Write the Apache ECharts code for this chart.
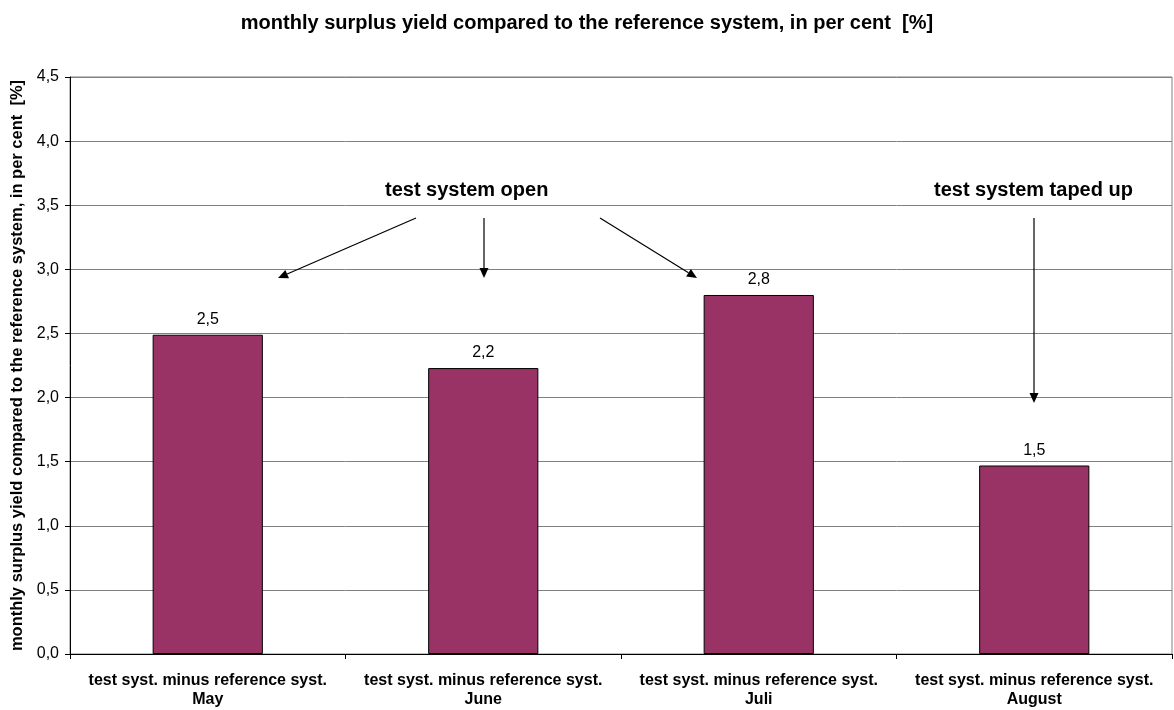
<!DOCTYPE html>
<html>
<head>
<meta charset="utf-8">
<script src="https://cdn.jsdelivr.net/npm/echarts@6/dist/echarts.min.js"></script>
<style>
  html, body { margin: 0; padding: 0; background: #fff; }
  #chart { width: 1174px; height: 710px; }
</style>
</head>
<body>
<div id="chart"></div>
<script>
// Monthly surplus yield of the test system over the reference system
const categories = [
  'test syst. minus reference syst.\nMay',
  'test syst. minus reference syst.\nJune',
  'test syst. minus reference syst.\nJuli',
  'test syst. minus reference syst.\nAugust'
];
const surplusValues = [2.49, 2.23, 2.80, 1.47];
const yTicks = { min: 0, max: 4.5, step: 0.5 };

const FONT = 'Arial, "Liberation Sans", sans-serif';
const comma = v => v.toFixed(1).replace('.', ',');

const chart = echarts.init(document.getElementById('chart'), null, { renderer: 'canvas' });

// Straight arrow with a filled triangular head
const arrowStyle = { stroke: '#000', lineWidth: 1.2 };
function arrow(x1, y1, x2, y2) {
  const ang = Math.atan2(y2 - y1, x2 - x1);
  const len = 10, half = 4.5;
  const bx = x2 - len * Math.cos(ang), by = y2 - len * Math.sin(ang);
  const px = -Math.sin(ang) * half, py = Math.cos(ang) * half;
  return [
    { type: 'line', shape: { x1, y1, x2: bx, y2: by }, style: arrowStyle, z: 10 },
    { type: 'polygon', shape: { points: [[x2, y2], [bx + px, by + py], [bx - px, by - py]] },
      style: { fill: '#000' }, z: 10 }
  ];
}

chart.setOption({
  animation: false,
  backgroundColor: '#fff',
  textStyle: { fontFamily: FONT },
  title: {
    text: 'monthly surplus yield compared to the reference system, in per cent  [%]',
    left: 'center',
    top: 8,
    textStyle: { fontFamily: FONT, fontSize: 20, fontWeight: 'bold', color: '#000' }
  },
  grid: {
    left: 70, right: 2, top: 77, bottom: 56,
    show: true, borderColor: '#808080', borderWidth: 1, backgroundColor: 'transparent'
  },
  xAxis: {
    type: 'category',
    data: categories,
    axisLine: { lineStyle: { color: '#000', width: 1 } },
    axisTick: { show: true, length: 5, lineStyle: { color: '#000' } },
    axisLabel: {
      color: '#000', fontFamily: FONT, fontSize: 16, fontWeight: 'bold',
      lineHeight: 19, margin: 17, interval: 0
    }
  },
  yAxis: {
    type: 'value',
    min: yTicks.min, max: yTicks.max, interval: yTicks.step,
    name: 'monthly surplus yield compared to the reference system, in per cent  [%]',
    nameLocation: 'middle',
    nameGap: 43,
    nameTextStyle: { color: '#000', fontFamily: FONT, fontSize: 16.5, fontWeight: 'bold' },
    axisLine: { show: true, lineStyle: { color: '#000', width: 1 } },
    axisTick: { show: true, length: 5, lineStyle: { color: '#000' } },
    axisLabel: { color: '#000', fontFamily: FONT, fontSize: 16, margin: 11, formatter: v => comma(v) },
    splitLine: { show: true, lineStyle: { color: '#808080', width: 1 } }
  },
  series: [{
    type: 'bar',
    data: surplusValues,
    barWidth: '40%',
    itemStyle: { color: '#993366', borderColor: '#000', borderWidth: 1 },
    label: {
      show: true, position: 'top', distance: 7,
      color: '#000', fontFamily: FONT, fontSize: 16,
      backgroundColor: '#fff', padding: [0, 5],
      formatter: p => comma(p.value)
    }
  }],
  graphic: [
    { type: 'text', left: 385, top: 180, z: 10,
      style: { text: 'test system open', font: 'bold 20px ' + FONT, fill: '#000' } },
    { type: 'text', left: 934, top: 180, z: 10,
      style: { text: 'test system taped up', font: 'bold 20px ' + FONT, fill: '#000' } },
    ...arrow(416, 218, 278, 278),
    ...arrow(484, 218, 484, 278),
    ...arrow(600, 218, 697, 278),
    ...arrow(1034, 218, 1034, 403)
  ]
});
</script>
</body>
</html>
